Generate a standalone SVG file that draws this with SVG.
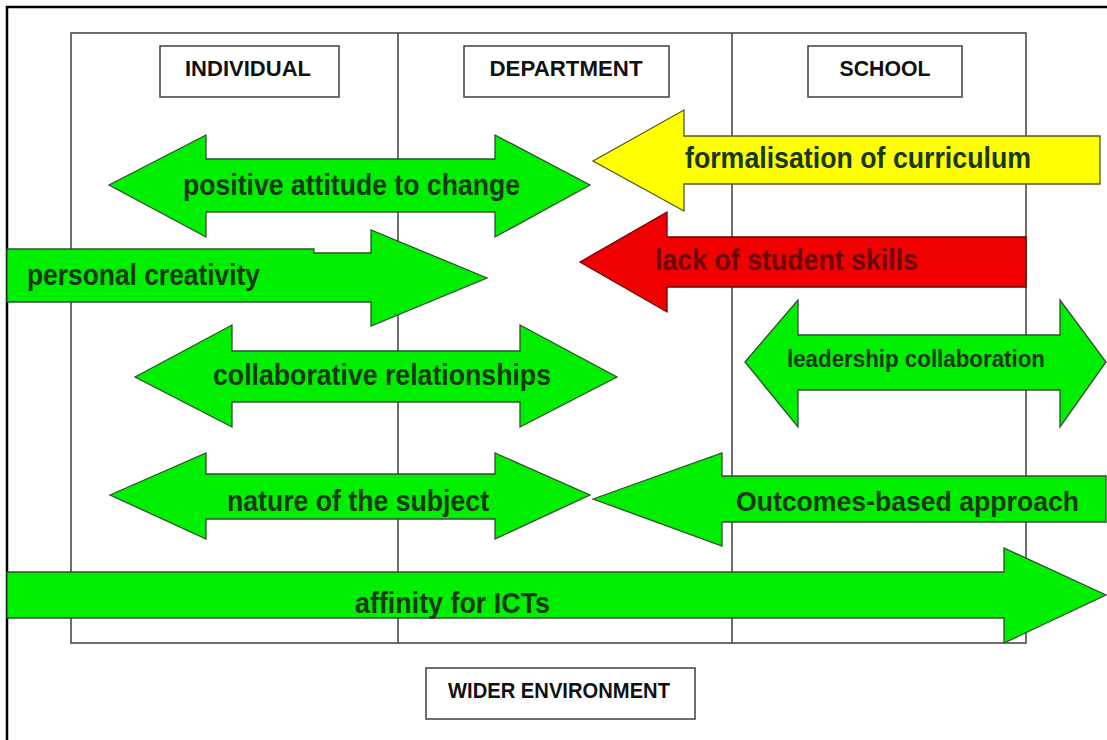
<svg xmlns="http://www.w3.org/2000/svg" width="1107" height="740" viewBox="0 0 1107 740">
<style>
.frame{fill:none;stroke:#000;stroke-width:2.5}
.grid{fill:none;stroke:#4a4a4a;stroke-width:1.6}
.box{fill:#fff;stroke:#4a4a4a;stroke-width:1.6}
.hdr{font-family:"Liberation Sans",Arial,sans-serif;font-weight:bold;font-size:22px;fill:#111;text-anchor:middle}
.g{fill:#00ee00;stroke:#2f4f2f;stroke-width:1.3;stroke-linejoin:miter}
.y{fill:#ffff00;stroke:#555522;stroke-width:1.3}
.r{fill:#f00000;stroke:#6b0000;stroke-width:1.3}
.lbl{font-family:"Liberation Sans",Arial,sans-serif;font-weight:bold;font-size:29px;fill:#183818}
.lblr{font-family:"Liberation Sans",Arial,sans-serif;font-weight:bold;font-size:29px;fill:#6a0808}
</style>
<rect width="1107" height="740" fill="#fff"/>
<rect class="frame" x="7" y="7" width="1112" height="745"/>
<g id="grid">
<rect class="grid" x="71" y="33" width="955" height="610"/>
<line class="grid" x1="398" y1="33" x2="398" y2="643"/>
<line class="grid" x1="732" y1="33" x2="732" y2="643"/>
</g>
<g id="individual"><rect class="box" x="160" y="46" width="179" height="51"/><text class="hdr" x="248" y="76" textLength="126" lengthAdjust="spacingAndGlyphs">INDIVIDUAL</text></g>
<g id="department"><rect class="box" x="464" y="46" width="205" height="51"/><text class="hdr" x="566" y="76" textLength="153" lengthAdjust="spacingAndGlyphs">DEPARTMENT</text></g>
<g id="school"><rect class="box" x="808" y="46" width="154" height="51"/><text class="hdr" x="885" y="76" textLength="91" lengthAdjust="spacingAndGlyphs">SCHOOL</text></g>
<g id="wider-environment"><rect class="box" x="426" y="668" width="269" height="51"/><text class="hdr" x="559" y="698" textLength="222" lengthAdjust="spacingAndGlyphs">WIDER ENVIRONMENT</text></g>
<g id="connectors">
<g id="positive-attitude"><polygon class="g" points="109,185 206,135 206,159 495,159 495,135 590,185 495,237 495,212 206,212 206,237"/><text class="lbl" x="183" y="195" textLength="337" lengthAdjust="spacingAndGlyphs">positive attitude to change</text></g>
<g id="personal-creativity"><polygon class="g" points="7,249 314,249 314,253 371,253 371,230 487,278 371,326 371,302 7,302"/><text class="lbl" x="27" y="285" textLength="233" lengthAdjust="spacingAndGlyphs">personal creativity</text></g>
<g id="formalisation"><polygon class="y" points="593,161 684,110 684,136 1100,136 1100,184 684,184 684,211"/><text class="lbl" x="685" y="168" textLength="346" lengthAdjust="spacingAndGlyphs">formalisation of curriculum</text></g>
<g id="lack-skills"><polygon class="r" points="580,262 667,212 667,237 1026,237 1026,287 667,287 667,312"/><text class="lblr" x="655" y="270" textLength="263" lengthAdjust="spacingAndGlyphs">lack of student skills</text></g>
<g id="collaborative"><polygon class="g" points="135,377 232,325 232,351 520,351 520,325 617,377 520,427 520,402 232,402 232,427"/><text class="lbl" x="213" y="385" textLength="338" lengthAdjust="spacingAndGlyphs">collaborative relationships</text></g>
<g id="leadership"><polygon class="g" points="745,362 798,300 798,335 1060,335 1060,300 1106,362 1060,427 1060,390 798,390 798,427"/><text class="lbl" style="font-size:23px" x="787" y="367" textLength="258" lengthAdjust="spacingAndGlyphs">leadership collaboration</text></g>
<g id="nature"><polygon class="g" points="110,495 206,453 206,474 495,474 495,453 590,495 495,539 495,519 206,519 206,539"/><text class="lbl" x="227" y="511" textLength="262" lengthAdjust="spacingAndGlyphs">nature of the subject</text></g>
<g id="outcomes"><polygon class="g" points="593,499 722,453 722,476 1106,476 1106,522 722,522 722,546"/><text class="lbl" style="font-size:27px" x="736" y="511" textLength="343" lengthAdjust="spacingAndGlyphs">Outcomes-based approach</text></g>
<g id="affinity"><polygon class="g" points="7,572 1004,572 1004,548 1106,595 1004,643 1004,618 7,618"/><text class="lbl" x="355" y="613" textLength="195" lengthAdjust="spacingAndGlyphs">affinity for ICTs</text></g>
</g>
</svg>
